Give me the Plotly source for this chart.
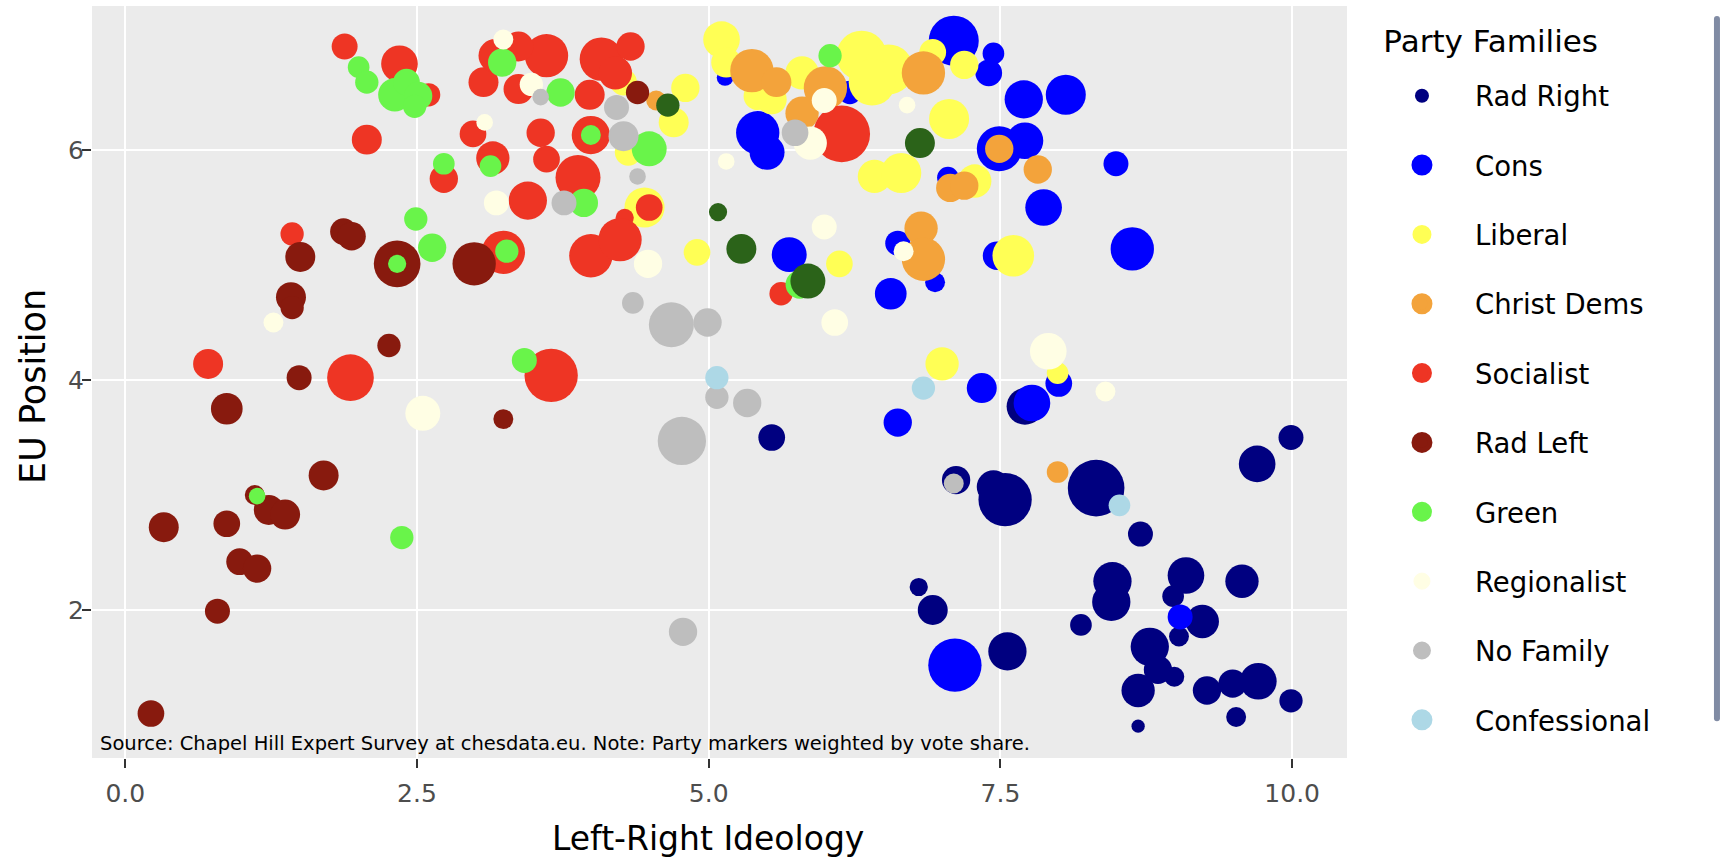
import numpy as np
import plotly.graph_objects as go

# ---------------- data ----------------
families = ["Rad Right", "Cons", "Liberal", "Christ Dems", "Socialist", "Rad Left",
            "Green", "Regionalist", "No Family", "Confessional", "Agrarian/Center"]
family_colors = ["#000080", "#0000FF", "#FFFF55", "#F3A33B", "#EE3524", "#881A0E",
                 "#69F44A", "#FFFEE4", "#BEBEBE", "#ADD8E6", "#2B6319"]

rad_right_lr = [5.54, 6.80, 6.92, 7.12, 7.54, 7.44, 8.32, 7.71, 9.99, 9.70, 8.70, 8.46, 8.45, 9.09, 8.98,
                9.57, 9.23, 8.19, 9.03, 8.78, 8.85, 8.99, 8.68, 9.27, 9.49, 9.71, 9.99, 9.52, 8.68, 7.56]
rad_right_eu = [3.50, 2.20, 2.00, 3.13, 2.96, 3.07, 3.06, 3.77, 3.50, 3.27, 2.66, 2.25, 2.07, 2.30, 2.12,
                2.25, 1.90, 1.87, 1.77, 1.68, 1.48, 1.42, 1.30, 1.30, 1.36, 1.38, 1.21, 1.07, 0.99, 1.64]
rad_right_vote = [8.8, 4.1, 11.1, 9.9, 35.1, 13.7, 39.6, 16.6, 7.7, 16.6, 7.7, 18.1, 18.1, 16.6, 5.8,
                  13.7, 13.7, 5.8, 4.9, 18.1, 9.9, 4.9, 13.7, 9.9, 9.9, 16.6, 6.7, 4.9, 2.2, 18.1]

cons_lr = [5.14, 6.21, 5.42, 5.50, 5.69, 6.56, 6.62, 6.94, 7.10, 7.44, 7.40, 7.70, 8.06, 7.49, 7.71,
           8.49, 7.05, 7.87, 8.63, 7.47, 8.00, 7.34, 7.77, 6.62, 9.04, 7.11]
cons_eu = [6.63, 6.50, 6.15, 5.98, 5.09, 4.75, 5.19, 4.85, 6.95, 6.84, 6.67, 6.44, 6.48, 6.01, 6.08,
           5.88, 5.76, 5.50, 5.14, 5.08, 3.97, 3.93, 3.80, 3.63, 1.94, 1.52]
cons_vote = [3.4, 6.7, 23.2, 15.1, 15.1, 12.4, 7.7, 4.9, 30.9, 5.8, 8.8, 18.1, 19.8, 25.0, 16.6,
             7.7, 5.8, 16.6, 23.2, 9.9, 8.8, 11.1, 16.6, 9.9, 7.7, 35.1]

liberal_lr = [4.27, 4.80, 4.70, 4.31, 4.45, 4.90, 5.11, 5.15, 5.42, 5.54, 5.80, 6.31, 6.54, 6.40,
              6.42, 6.65, 6.12, 6.92, 7.19, 7.06, 7.28, 7.61, 7.00, 7.99]
liberal_eu = [6.59, 6.54, 6.24, 5.98, 5.50, 5.11, 6.96, 6.76, 6.47, 6.44, 6.67, 6.82, 6.70, 6.59,
              5.77, 5.80, 5.01, 6.85, 6.74, 6.27, 5.73, 5.08, 4.14, 4.06]
liberal_vote = [8.8, 9.9, 11.1, 8.8, 19.8, 8.8, 16.6, 11.1, 9.9, 11.1, 13.7, 30.9, 30.9, 26.9,
                13.7, 19.8, 8.8, 8.8, 9.9, 19.8, 13.7, 21.4, 13.7, 5.8]

christ_lr = [4.55, 5.37, 5.58, 6.00, 5.80, 6.84, 7.49, 7.82, 7.07, 7.19, 6.82, 6.84, 7.99]
christ_eu = [6.43, 6.69, 6.59, 6.54, 6.32, 6.67, 6.01, 5.83, 5.67, 5.69, 5.32, 5.05, 3.20]
christ_vote = [4.9, 23.2, 11.1, 23.2, 13.7, 23.2, 9.9, 9.9, 9.9, 9.9, 13.7, 23.2, 5.8]

socialist_lr = [1.88, 2.35, 2.60, 2.07, 2.73, 1.43, 0.71, 1.93, 3.07, 3.17, 2.98, 3.15, 3.24, 3.61,
                3.37, 3.37, 4.08, 4.33, 3.98, 4.20, 3.56, 3.99, 3.61, 3.88, 3.45, 4.49, 4.28, 3.99,
                4.24, 3.65, 6.14, 5.62]
socialist_eu = [6.90, 6.75, 6.48, 6.09, 5.75, 5.27, 4.14, 4.02, 6.59, 6.82, 6.14, 5.93, 5.11, 6.82,
                6.90, 6.53, 6.79, 6.90, 6.48, 6.67, 6.15, 6.13, 5.92, 5.76, 5.56, 5.50, 5.41, 5.08,
                5.22, 4.04, 6.14, 4.75]
socialist_vote = [8.3, 16.6, 6.7, 11.1, 9.9, 6.7, 11.1, 26.9, 11.1, 13.7, 8.8, 13.7, 23.2, 23.2,
                  11.1, 11.1, 23.2, 9.9, 11.1, 13.7, 9.9, 18.1, 8.8, 25.0, 18.1, 8.8, 4.1, 23.2,
                  23.2, 35.1, 39.6, 6.7]

rad_left_lr = [4.39, 1.50, 1.87, 1.94, 2.33, 2.99, 1.42, 1.43, 2.26, 1.49, 0.87, 3.24, 1.70, 1.11,
               1.23, 1.37, 0.33, 0.87, 0.98, 1.13, 0.79, 0.22]
rad_left_eu = [6.50, 5.07, 5.29, 5.25, 5.01, 5.01, 4.72, 4.63, 4.30, 4.02, 3.75, 3.66, 3.17, 3.00,
               2.87, 2.83, 2.72, 2.75, 2.42, 2.36, 1.99, 1.10]
rad_left_vote = [6.7, 11.1, 8.8, 9.9, 26.9, 23.2, 11.1, 6.7, 6.7, 7.7, 12.4, 4.9, 11.1, 4.9,
                 11.1, 11.1, 11.1, 8.8, 8.8, 9.9, 7.7, 8.8]

green_lr = [2.00, 2.07, 2.31, 2.41, 2.51, 2.48, 2.73, 2.49, 2.63, 2.33, 3.23, 3.13, 3.27, 3.73,
            3.99, 4.49, 3.93, 3.42, 6.04, 5.78, 1.13, 2.37]
green_eu = [6.72, 6.59, 6.48, 6.59, 6.47, 6.38, 5.88, 5.40, 5.15, 5.01, 6.76, 5.86, 5.12, 6.50,
            6.13, 6.01, 5.54, 4.17, 6.82, 4.83, 2.99, 2.63]
green_vote = [5.8, 6.7, 13.7, 8.8, 9.9, 6.7, 5.8, 6.7, 9.9, 4.1, 9.9, 5.8, 6.7, 9.9,
              4.9, 15.1, 9.9, 7.7, 6.7, 9.9, 3.4, 6.7]

regional_lr = [1.27, 3.24, 3.08, 3.18, 3.48, 4.48, 2.55, 5.99, 6.70, 5.87, 5.15, 5.99, 6.08, 6.67, 7.91, 8.40]
regional_eu = [4.50, 6.96, 6.24, 5.54, 6.57, 5.01, 3.71, 6.43, 6.39, 6.06, 5.90, 5.33, 4.50, 5.12, 4.25, 3.90]
regional_vote = [4.9, 4.9, 3.4, 7.7, 6.7, 9.9, 15.1, 7.7, 3.4, 13.7, 3.4, 7.7, 8.8, 4.9, 16.6, 4.9]

nofam_lr = [3.56, 4.21, 4.27, 4.39, 3.76, 4.35, 4.68, 4.99, 5.74, 4.77, 5.07, 5.33, 4.78, 7.10]
nofam_eu = [6.46, 6.37, 6.12, 5.77, 5.54, 4.67, 4.48, 4.50, 6.15, 3.47, 3.85, 3.80, 1.81, 3.10]
nofam_vote = [3.4, 7.7, 11.1, 3.4, 7.7, 5.8, 25.0, 9.9, 8.8, 28.8, 6.7, 9.9, 9.9, 4.9]

confess_lr = [5.07, 6.84, 8.52]
confess_eu = [4.02, 3.93, 2.91]
confess_vote = [6.7, 6.7, 5.8]

agrarian_lr = [4.65, 6.81, 5.08, 5.28, 5.85]
agrarian_eu = [6.39, 6.06, 5.46, 5.14, 4.86]
agrarian_vote = [6.7, 11.1, 4.1, 11.1, 15.1]

series = [
    (rad_right_lr, rad_right_eu, rad_right_vote),
    (cons_lr, cons_eu, cons_vote),
    (liberal_lr, liberal_eu, liberal_vote),
    (christ_lr, christ_eu, christ_vote),
    (socialist_lr, socialist_eu, socialist_vote),
    (rad_left_lr, rad_left_eu, rad_left_vote),
    (green_lr, green_eu, green_vote),
    (regional_lr, regional_eu, regional_vote),
    (nofam_lr, nofam_eu, nofam_vote),
    (confess_lr, confess_eu, confess_vote),
    (agrarian_lr, agrarian_eu, agrarian_vote),
]
# legend symbol: marker size and same-colour outline width
legend_marker_sizes = [14, 16, 16, 16, 16, 16, 16, 16, 16, 16, 16]
legend_marker_lines = [0, 5, 3, 5, 4, 5, 4, 1, 2, 5, 4]

x_ticks = [0, 2.5, 5, 7.5, 10]
y_ticks = [2, 4, 6]
x_title = "Left-Right Ideology"
y_title = "EU Position"
legend_title = "Party Families"
source_note = "Source: Chapel Hill Expert Survey at chesdata.eu. Note: Party markers weighted by vote share."

SIZE_K = 9.0  # diameter = K * sqrt(vote share)
FONT = "DejaVu Sans"

fig = go.Figure()
for name, color, (xs, ys, vs) in zip(families, family_colors, series):
    fig.add_trace(go.Scatter(
        x=xs, y=ys, mode="markers", name=name, legendgroup=name, showlegend=False,
        marker=dict(color=color, size=SIZE_K * np.sqrt(np.array(vs)), sizemode="diameter",
                    opacity=1, line=dict(width=0)),
        hovertemplate=name + "<br>LR: %{x}<br>EU: %{y}<extra></extra>",
    ))
for i, (name, color, ms, lw) in enumerate(zip(families, family_colors,
                                               legend_marker_sizes, legend_marker_lines)):
    label = name + ("\u00a0\u2009" if i == len(families) - 1 else "")
    extra = {}
    if i == 0:
        extra = dict(legendgrouptitle=dict(text="\u00a0", font=dict(size=8)))
    fig.add_trace(go.Scatter(
        x=[None], y=[None], mode="markers", name=label, legendgroup=name, showlegend=True,
        marker=dict(color=color, size=ms, line=dict(width=lw, color=color)), **extra,
    ))

fig.add_annotation(
    x=-0.231, y=0.835, xref="x", yref="y", text=source_note, showarrow=False,
    xanchor="left", yanchor="middle", font=dict(family=FONT, size=19.5, color="black"),
)
fig.add_annotation(
    x=0.4908, y=-0.1077, xref="paper", yref="paper", text=x_title, showarrow=False,
    xanchor="center", yanchor="middle", font=dict(family=FONT, size=33, color="black"),
)
fig.add_annotation(
    x=-0.047, y=0.4934, xref="paper", yref="paper", text=y_title, showarrow=False,
    textangle=-90, xanchor="center", yanchor="middle", font=dict(family=FONT, size=35, color="black"),
)

axis_common = dict(
    showgrid=True, gridcolor="white", gridwidth=2, zeroline=False, showline=False,
    ticks="outside", ticklen=9, tickwidth=2, tickcolor="#333333",
    tickfont=dict(family=FONT, size=25, color="#4D4D4D"),
)
fig.update_layout(
    width=1724, height=863,
    margin=dict(l=92, r=377, t=6, b=105, autoexpand=False),
    plot_bgcolor="#EBEBEB", paper_bgcolor="white",
    font=dict(family=FONT, color="black"),
    xaxis=dict(range=[-0.285, 10.47], tickmode="array", tickvals=x_ticks,
               ticktext=[f"{v:.1f}" for v in x_ticks], ticklabelstandoff=4, **axis_common),
    yaxis=dict(range=[0.713, 7.252], tickmode="array", tickvals=y_ticks,
               ticktext=[str(v) for v in y_ticks], ticklabelstandoff=-7, **axis_common),
    legend=dict(
        title=dict(text="\u2009\u2009" + legend_title, font=dict(family=FONT, size=31, color="black")),
        font=dict(family=FONT, size=27.5, color="black"),
        x=1.0175, y=0.992, xanchor="left", yanchor="top",
        tracegroupgap=30.6, itemwidth=96, itemsizing="trace", bgcolor="white",
    ),
    showlegend=True,
)

fig.write_html(
    "out.html",
    config={"displayModeBar": False},
    post_script="document.body.style.margin='0px';document.body.style.overflow='hidden';",
)
